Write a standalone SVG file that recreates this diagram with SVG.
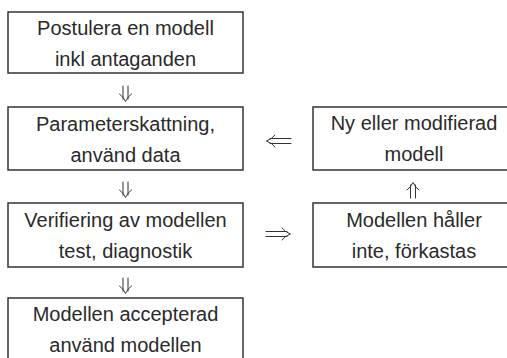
<svg xmlns="http://www.w3.org/2000/svg" width="507" height="358" viewBox="0 0 507 358">
<style>
.box{fill:#fff;stroke:#333;stroke-width:1.5}
.t{font-family:"Liberation Sans",Arial,sans-serif;font-size:20px;fill:#2a2a2a;text-anchor:middle}
.arr{fill:none;stroke:#333;stroke-width:1;stroke-linecap:round;stroke-linejoin:round}
</style>
<rect width="507" height="358" fill="#fff"/>
<g id="connectors">
<path class="arr" d="M123 86V99M128 86V99M119.5 94Q123.5 97 125.5 101.5Q127.5 97 131.5 94"/>
<path class="arr" d="M123 182V195M128 182V195M119.5 190Q123.5 193 125.5 197.5Q127.5 193 131.5 190"/>
<path class="arr" d="M123 278V291M128 278V291M119.5 286Q123.5 289 125.5 293.5Q127.5 289 131.5 286"/>
<path class="arr" d="M410.5 198V185M415.5 198V185M407 190Q411 187 413 182.5Q415 187 419 190"/>
<path class="arr" d="M291 138.5H270M291 143.5H270M275 135Q272 139 266.5 141Q272 143 275 147"/>
<path class="arr" d="M266 231.5H287M266 236.5H287M282 228Q285 232 290.5 234Q285 236 282 240"/>
</g>
<g id="n1"><rect class="box" x="8" y="12" width="235" height="61"/>
<text class="t" x="125.5" y="35">Postulera en modell</text><text class="t" x="125.5" y="66">inkl antaganden</text></g>
<g id="n2"><rect class="box" x="8" y="107" width="235" height="63"/>
<text class="t" x="125.5" y="131">Parameterskattning,</text><text class="t" x="125.5" y="162">använd data</text></g>
<g id="n3"><rect class="box" x="8" y="203" width="235" height="64"/>
<text class="t" x="125.5" y="227">Verifiering av modellen</text><text class="t" x="125.5" y="258">test, diagnostik</text></g>
<g id="n4"><rect class="box" x="8" y="298" width="235" height="64"/>
<text class="t" x="125.5" y="321">Modellen accepterad</text><text class="t" x="125.5" y="352">använd modellen</text></g>
<g id="n5"><rect class="box" x="313" y="107" width="202" height="63"/>
<text class="t" x="414" y="130">Ny eller modifierad</text><text class="t" x="414" y="161">modell</text></g>
<g id="n6"><rect class="box" x="313" y="203" width="202" height="64"/>
<text class="t" x="414" y="227">Modellen håller</text><text class="t" x="414" y="258">inte, förkastas</text></g>
</svg>
